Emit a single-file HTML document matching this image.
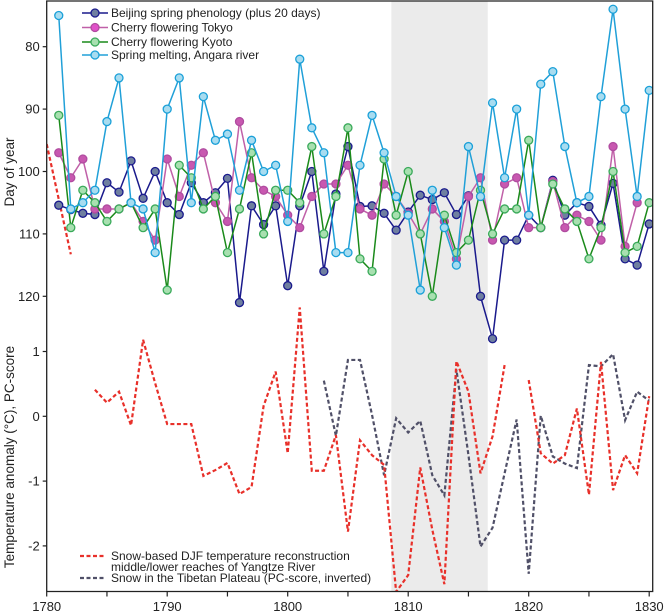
<!DOCTYPE html>
<html><head><meta charset="utf-8"><style>
html,body{margin:0;padding:0;background:#fff;}
svg{display:block;font-family:"Liberation Sans",sans-serif;}
</style></head><body>
<svg id="chart" width="664" height="614" viewBox="0 0 664 614" xmlns="http://www.w3.org/2000/svg">
<rect id="shade" fill="#ebebeb"/>
<g id="marks"></g>
<g id="axes"></g>
<g font-size="12" fill="#222">
 <g><line x1="82" y1="13" x2="108" y2="13" stroke="#1a1a8c" stroke-width="1.5"/><circle cx="95" cy="13" r="4" fill="#6f7fa0" stroke="#1a1a8c" stroke-width="1.3"/><text x="111" y="17">Beijing spring phenology (plus 20 days)</text></g>
 <g><line x1="82" y1="27.5" x2="108" y2="27.5" stroke="#c060a8" stroke-width="1.5"/><circle cx="95" cy="27.5" r="4" fill="#e050c8" stroke="#b04ca0" stroke-width="1.3"/><text x="111" y="31.5">Cherry flowering Tokyo</text></g>
 <g><line x1="82" y1="42" x2="108" y2="42" stroke="#1a8a1a" stroke-width="1.5"/><circle cx="95" cy="42" r="4" fill="#a8e0b0" stroke="#3aaa5a" stroke-width="1.3"/><text x="111" y="46">Cherry flowering Kyoto</text></g>
 <g><line x1="82" y1="55" x2="108" y2="55" stroke="#20a0d8" stroke-width="1.5"/><circle cx="95" cy="55" r="4" fill="#a8dcf0" stroke="#1aa0d8" stroke-width="1.3"/><text x="111" y="59">Spring melting, Angara river</text></g>
</g>
<g font-size="12" fill="#222">
 <g><line x1="80" y1="556" x2="106" y2="556" stroke="#e8302a" stroke-width="2.2" stroke-dasharray="4,2.5"/><text x="111" y="560">Snow-based DJF temperature reconstruction</text><text x="111" y="571">middle/lower reaches of Yangtze River</text></g>
 <g><line x1="80" y1="578" x2="106" y2="578" stroke="#505068" stroke-width="2.2" stroke-dasharray="4,2.5"/><text x="111" y="582">Snow in the Tibetan Plateau (PC-score, inverted)</text></g>
</g>
<text font-size="13.5" fill="#222" text-anchor="middle" transform="translate(14,172) rotate(-90)">Day of year</text>
<text font-size="13.5" fill="#222" text-anchor="middle" transform="translate(14,457) rotate(-90)">Temperature anomaly (°C), PC-score</text>
</svg>
<script>
const years1 = [1781,1782,1783,1784,1785,1786,1787,1788,1789,1790,1791,1792,1793,1794,1795,1796,1797,1798,1799,1800,1801,1802,1803,1804,1805,1806,1807,1808,1809,1810,1811,1812,1813,1814,1815,1816,1817,1818,1819,1820,1821,1822,1823,1824,1825,1826,1827,1828,1829,1830];
const beijing = [105.4,106.1,106.7,106.9,101.8,103.3,98.3,104.3,100,105,106.9,101.8,105,103.4,101.1,121,105.5,108.5,105.5,118.3,105.5,100,116,103.6,96,105.6,105.5,106.7,109.4,106.5,103.8,104.5,103.4,106.9,103.9,120,126.8,111,111,107,109,101.4,107,105,105.6,108.6,101.9,114,115,108.4];
const tokyo = [97,101,98,106,106,106,105,108,111,98,104,99,97,105,108,92,101,103,104,107,109,104,102,102,99,106,107,102,104,106.7,110,106,108,114,104,101,111,102,101,109,109,101.6,109,107,108,111,96,112,105,null];
const kyoto = [91,109,103,105,108,106,105,109,106,119,99,101,106,104,113,106,97,110,103,103,105,96,110,104,93,114,116,98,107,100,110,120,107,113,111,103,110,106,106,95,109,102,106,108,114,109,100,113,112,105];
const angara = [75,106,105,103,92,85,105,106,113,90,85,105,88,95,94,103,95,100,99,108,82,93,97,113,113,99,91,97,104,107,119,103,109,115,96,104,89,101,90,107,86,84,96,105,104,88,74,90,104,87];
const years2 = [1780,1781,1782,1783,1784,1785,1786,1787,1788,1789,1790,1791,1792,1793,1794,1795,1796,1797,1798,1799,1800,1801,1802,1803,1804,1805,1806,1807,1808,1809,1810,1811,1812,1813,1814,1815,1816,1817,1818,1819,1820,1821,1822,1823,1824,1825,1826,1827,1828,1829,1830];
const yangtze = [4.2,3.35,2.5,null,0.41,0.21,0.38,-0.14,1.18,0.51,-0.12,-0.12,-0.12,-0.92,-0.83,-0.72,-1.2,-1.09,0.16,0.69,-0.57,1.68,-0.84,-0.84,-0.29,-1.78,-0.37,-0.6,-0.75,-2.71,-2.45,-0.79,-1.75,-2.59,0.85,0.38,-0.88,-0.31,0.79,null,0.56,-0.57,-0.73,-0.6,0.12,-1.21,0.84,-1.14,-0.6,-0.88,0.31];
const tibet = [null,null,null,null,null,null,null,null,null,null,null,null,null,null,null,null,null,null,null,null,null,null,null,0.55,-0.3,0.87,0.87,0.02,-0.91,-0.03,-0.25,-0.07,-0.91,-1.22,0.72,-0.6,-2.01,-1.72,-0.88,-0.05,-2.43,0.01,-0.62,-0.73,-0.8,0.79,0.77,0.96,-0.06,0.38,0.24];
const dayTicks = [80,90,100,110,120];
const tempTicks = [1,0,-1,-2];
const yearTicks = [1780,1790,1800,1810,1820,1830];
const shadeRange = [1808.6,1816.6];

const NS = "http://www.w3.org/2000/svg";
const X0 = 46.7, XR = 652.7, YT = 1, YB = 591.5;
function xs(y){ return 46.7 + (y-1780)*12.05; }
function yDay(d){ return 46.7 + (d-80)*6.24; }
function yTemp(v){ return 416.3 - v*64.8; }
function mk(tag, attrs, parent){ const e=document.createElementNS(NS,tag); for(const k in attrs) e.setAttribute(k,attrs[k]); parent.appendChild(e); return e; }

const shade = document.getElementById('shade');
shade.setAttribute('x', xs(shadeRange[0])); shade.setAttribute('y', YT);
shade.setAttribute('width', xs(shadeRange[1])-xs(shadeRange[0])); shade.setAttribute('height', YB-YT);

const marks = document.getElementById('marks');
const svg = document.getElementById('chart');
const clipDef = mk('defs',{},svg);
const cp = mk('clipPath',{id:'plotclip'},clipDef);
mk('rect',{x:X0,y:YT,width:XR-X0,height:YB-YT},cp);
marks.setAttribute('clip-path','url(#plotclip)');

function segments(xv, vals, yf){
  const segs=[]; let cur=[];
  vals.forEach((v,i)=>{ if(v===null){ if(cur.length) segs.push(cur); cur=[]; } else cur.push([xs(xv[i]), yf(v)]); });
  if(cur.length) segs.push(cur);
  return segs;
}
function dashed(vals, color, name){
  segments(years2, vals, yTemp).forEach(s=>{
    const p = mk('polyline',{points:s.map(q=>q.join(',')).join(' '),fill:'none',stroke:color,'stroke-width':2.2,'stroke-dasharray':'4,2.5'},marks);
    
    
  });
}
dashed(tibet,'#505068','tibet-snow-line');
dashed(yangtze,'#e8302a','yangtze-temperature-line');

function series(vals, line, fill, stroke, name){
  segments(years1, vals, yDay).forEach(s=>{
    const p = mk('polyline',{points:s.map(q=>q.join(',')).join(' '),fill:'none',stroke:line,'stroke-width':1.5},marks);
    
    
  });
  vals.forEach((v,i)=>{ if(v===null) return;
    const c = mk('circle',{cx:xs(years1[i]),cy:yDay(v),r:4,fill:fill,stroke:stroke,'stroke-width':1.3},marks);
    
    
  });
}
series(beijing,'#1a1a8c','#6f7fa0','#1a1a8c','beijing');
series(tokyo,'#c060a8','#c858b0','#b04ca0','tokyo');
series(kyoto,'#1a8a1a','#a8e0b0','#3aaa5a','kyoto');
series(angara,'#20a0d8','#a8dcf0','#1aa0d8','angara');

const axes = document.getElementById('axes');
const fr = mk('path',{d:`M${X0},${YB} L${X0},${YT} L${XR},${YT} L${XR},${YB} L${X0},${YB}`,fill:'none',stroke:'#222','stroke-width':1.3},axes);


for(let y=1780;y<=1830;y+=5){
  const t = mk('line',{x1:xs(y),y1:YB,x2:xs(y),y2:YB+5,stroke:'#222','stroke-width':1.2},axes);
  
  
}
yearTicks.forEach(y=>{
  const t = mk('text',{x:xs(y),y:611,'font-size':13,'text-anchor':'middle',fill:'#222'},axes);
  t.textContent=y;
  
  
});
dayTicks.forEach(d=>{
  const l = mk('line',{x1:X0-4,y1:yDay(d),x2:X0,y2:yDay(d),stroke:'#222','stroke-width':1.2},axes);
  
  
  const t = mk('text',{x:X0-7,y:yDay(d)+4.5,'font-size':13,'text-anchor':'end',fill:'#222'},axes);
  t.textContent=d;
  
  
});
tempTicks.forEach(v=>{
  const l = mk('line',{x1:X0-4,y1:yTemp(v),x2:X0,y2:yTemp(v),stroke:'#222','stroke-width':1.2},axes);
  
  
  const t = mk('text',{x:X0-7,y:yTemp(v)+4.5,'font-size':13,'text-anchor':'end',fill:'#222'},axes);
  t.textContent=v;
  
  
});
</script>
</body></html>
